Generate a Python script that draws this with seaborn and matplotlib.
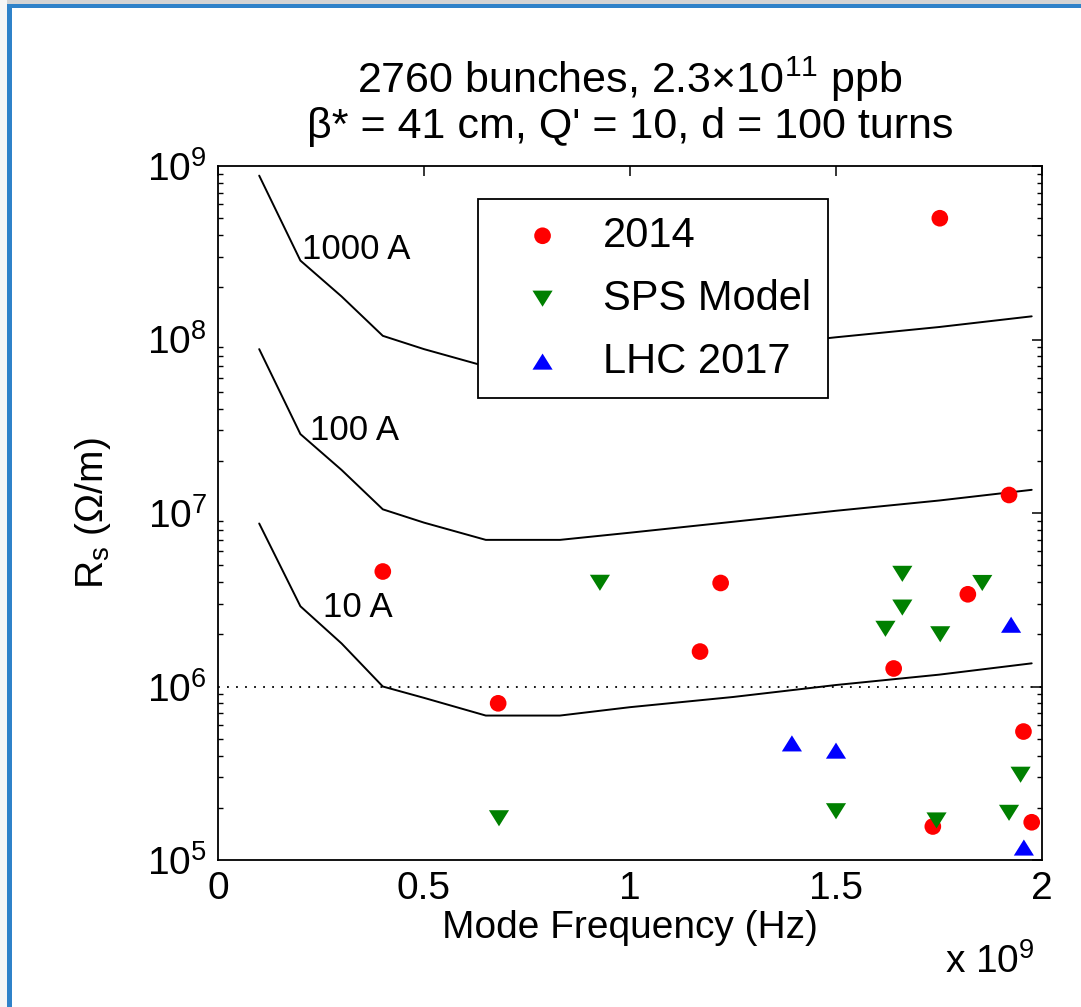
import matplotlib
matplotlib.use("Agg")
import matplotlib.pyplot as plt
import matplotlib.ticker as mticker
from matplotlib.patches import Rectangle
import numpy as np
import pandas as pd
import seaborn as sns

# ---------------- data (frequency in units of 1e9 Hz) ----------------
curve_freq = [0.1, 0.2, 0.3, 0.4, 0.5, 0.65, 0.83, 1.0, 1.25, 1.5, 1.75, 1.975]
rs_1000A = [8.8e8, 2.85e8, 1.77e8, 1.05e8, 8.8e7, 7.0e7, 7.0e7, 7.7e7, 8.9e7, 1.03e8, 1.18e8, 1.36e8]
rs_100A = [8.8e7, 2.85e7, 1.77e7, 1.05e7, 8.8e6, 7.0e6, 7.0e6, 7.7e6, 8.9e6, 1.03e7, 1.18e7, 1.36e7]
rs_10A = [8.7e6, 2.9e6, 1.77e6, 1.0e6, 8.6e5, 6.8e5, 6.8e5, 7.6e5, 8.7e5, 1.02e6, 1.17e6, 1.36e6]
curve_labels = ["1000 A", "100 A", "10 A"]

freq_2014 = [0.40, 0.68, 1.17, 1.22, 1.64, 1.82, 1.92, 1.955, 1.735, 1.975, 1.752]
rs_2014 = [4.6e6, 8.0e5, 1.59e6, 3.95e6, 1.27e6, 3.4e6, 1.27e7, 5.5e5, 1.56e5, 1.65e5, 5.0e8]

freq_sps = [0.682, 0.927, 1.50, 1.62, 1.661, 1.661, 1.753, 1.744, 1.855, 1.92, 1.948]
rs_sps = [1.74e5, 3.96e6, 1.91e5, 2.15e6, 4.46e6, 2.85e6, 2.0e6, 1.69e5, 3.95e6, 1.87e5, 3.1e5]

freq_lhc = [1.393, 1.50, 1.925, 1.956]
rs_lhc = [4.7e5, 4.27e5, 2.27e6, 1.18e5]

series_names = ["2014", "SPS Model", "LHC 2017"]
series_colors = ["#ff0000", "#008000", "#0000ff"]

# ---------------- style ----------------
sns.set_theme(style="white")
plt.rcParams["font.family"] = ["Liberation Sans", "DejaVu Sans"]
plt.rcParams["mathtext.fontset"] = "custom"
plt.rcParams["mathtext.rm"] = "Liberation Sans"
plt.rcParams["mathtext.it"] = "Liberation Sans"
plt.rcParams["mathtext.bf"] = "Liberation Sans:bold"
for k in ["text.color", "axes.labelcolor", "xtick.color", "ytick.color", "axes.edgecolor"]:
    plt.rcParams[k] = "black"

FS = 28

fig = plt.figure(figsize=(10.81, 10.07), dpi=100, facecolor="white")
ax = fig.add_axes([218 / 1081, 1 - 860 / 1007, 824 / 1081, 694 / 1007])

# frame decoration
fig.patches.append(Rectangle((0, 1 - 4 / 1007), 1, 4 / 1007, transform=fig.transFigure,
                             facecolor="#d4d4d4", edgecolor="none", zorder=-5))
fig.patches.append(Rectangle((0, 0), 7 / 1081, 1, transform=fig.transFigure,
                             facecolor="#f6f6f6", edgecolor="none", zorder=-5))
fig.patches.append(Rectangle((7 / 1081, 1 - 8 / 1007), 1, 4 / 1007, transform=fig.transFigure,
                             facecolor="#2f82c9", edgecolor="none", zorder=-4))
fig.patches.append(Rectangle((7 / 1081, 0), 4.5 / 1081, 1 - 4 / 1007, transform=fig.transFigure,
                             facecolor="#2f82c9", edgecolor="none", zorder=-4))

# threshold curves
curves = pd.DataFrame({
    "freq": curve_freq * 3,
    "rs": rs_1000A + rs_100A + rs_10A,
    "current": sum([[lab] * len(curve_freq) for lab in curve_labels], []),
})
sns.lineplot(data=curves, x="freq", y="rs", units="current", estimator=None,
             color="black", linewidth=1.4, ax=ax, legend=False, sort=False)

ax.axhline(1e6, color="black", linewidth=1.3, linestyle=(0, (1, 4)), zorder=1)

# scatter series
tri_down = [(-1.25, 1.0), (1.25, 1.0), (0.0, -1.0)]
tri_up = [(-1.25, -1.0), (1.25, -1.0), (0.0, 1.0)]
sns.scatterplot(x=freq_2014, y=rs_2014, marker="o", color=series_colors[0], s=12 ** 2,
                edgecolor="none", label=series_names[0], ax=ax, zorder=3)
sns.scatterplot(x=freq_sps, y=rs_sps, marker=tri_down, color=series_colors[1], s=14.5 ** 2,
                edgecolor="none", label=series_names[1], ax=ax, zorder=3)
sns.scatterplot(x=freq_lhc, y=rs_lhc, marker=tri_up, color=series_colors[2], s=14.5 ** 2,
                edgecolor="none", label=series_names[2], ax=ax, zorder=3)

# curve labels
ax.text(0.204, 3.3e8, "1000 A", fontsize=25, va="center", ha="left")
ax.text(0.223, 3.0e7, "100 A", fontsize=25, va="center", ha="left")
ax.text(0.255, 2.85e6, "10 A", fontsize=25, va="center", ha="left")

# axes
ax.set_yscale("log")
ax.set_xlim(0, 2)
ax.set_ylim(1e5, 1e9)
ax.set_xticks([0, 0.5, 1, 1.5, 2])
ax.set_xticklabels(["0", "0.5", "1", "1.5", "2"])
ax.yaxis.set_major_locator(mticker.LogLocator(base=10, numticks=10))
ax.yaxis.set_minor_locator(mticker.LogLocator(base=10, subs=np.arange(2, 10), numticks=20))
ax.yaxis.set_minor_formatter(mticker.NullFormatter())
ax.tick_params(axis="both", which="major", direction="in", length=7, width=1.1,
               top=True, right=True, labelsize=FS, pad=8, colors="black")
ax.tick_params(axis="y", which="minor", direction="in", length=3.5, width=1.0,
               left=True, right=True, colors="black")
for sp in ax.spines.values():
    sp.set_color("black")
    sp.set_linewidth(1.3)

ax.set_xlabel("Mode Frequency (Hz)", fontsize=FS)
ax.set_ylabel("R$_\\mathrm{s}$ (Ω/m)", fontsize=FS)
ax.xaxis.set_label_coords(0.5, -0.072)
ax.yaxis.set_label_coords(-0.128, 0.5)
ax.set_title("2760 bunches, 2.3×10$^{11}$ ppb\nβ* = 41 cm, Q' = 10, d = 100 turns",
             fontsize=31, pad=20, linespacing=1.1)

fig.text(945 / 1081, 1 - 973 / 1007, "x 10$^{9}$", fontsize=FS, ha="left", va="baseline")

leg = ax.legend(loc="upper left", bbox_to_anchor=(0.3155, 0.9524), borderaxespad=0,
                fontsize=30, frameon=True, fancybox=False, edgecolor="black", framealpha=1,
                handletextpad=0.3, labelspacing=0.55, borderpad=0.4, handlelength=2.3,
                markerscale=1.0)
leg.get_frame().set_linewidth(1.3)
leg.get_frame().set_facecolor("white")

fig.savefig("out.png", dpi=100, facecolor="white")
